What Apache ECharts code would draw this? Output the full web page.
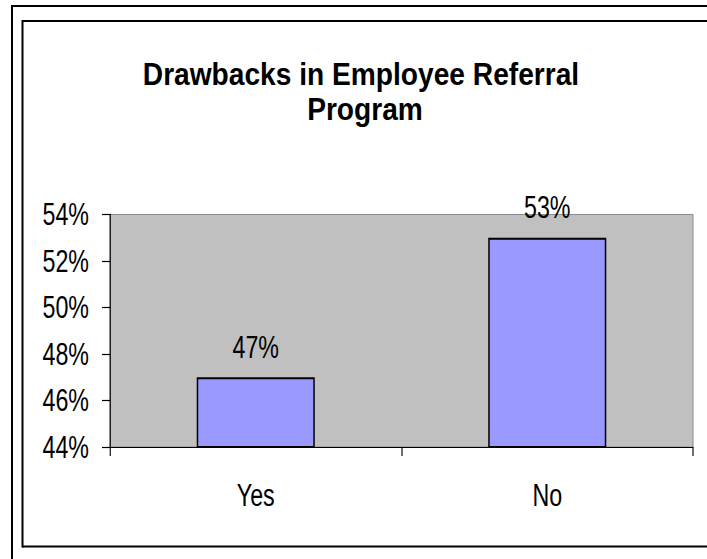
<!DOCTYPE html>
<html>
<head>
<meta charset="utf-8">
<script src="https://cdn.jsdelivr.net/npm/echarts@6/dist/echarts.min.js"></script>
<style>
html,body{margin:0;padding:0;background:#fff;overflow:hidden;}
#wrap{width:707px;height:559px;overflow:hidden;position:relative;}
#chart{height:559px;transform-origin:0 0;position:absolute;left:0;top:0;}
</style>
</head>
<body>
<div id="wrap"><div id="chart"></div></div>
<script>
const titleLines = ["Drawbacks in Employee Referral", "Program"];
const categories = ["Yes", "No"];
const values = [47, 53];
const yMin = 44, yMax = 54, yStep = 2;

// The reference uses a condensed typeface; emulate it by compressing horizontally.
const SX = 0.75;
const W = 707 / SX;
const X = v => v / SX;               // convert a screen x to chart-space x
const el = document.getElementById('chart');
el.style.width = W + 'px';
el.style.transform = 'scaleX(' + SX + ')';

const FONT = '"Liberation Sans", Arial, sans-serif';
const chart = echarts.init(el, null, {renderer: 'svg', width: W, height: 559});

const line = (x1, y1, x2, y2, w) => ({
  type: 'line', silent: true,
  shape: {x1: x1, y1: y1, x2: x2, y2: y2},
  style: {stroke: '#000', lineWidth: w}
});
const titleStyle = {fontFamily: FONT, fontWeight: 'bold', fontSize: 32, fill: '#000', align: 'center', verticalAlign: 'middle'};
const TS = 0.88 / SX;

chart.setOption({
  backgroundColor: '#fff',
  animation: false,
  graphic: [
    line(X(11), 6, X(707), 6, 2),
    line(X(12), 5, X(12), 559, 2 / SX),
    line(X(22), 21, X(707), 21, 2),
    line(X(22.5), 20, X(22.5), 547.5, 2 / SX),
    line(X(22), 546.5, X(707), 546.5, 2),
    {type: 'text', silent: true, x: X(361), y: 74, scaleX: TS, style: Object.assign({text: titleLines[0]}, titleStyle)},
    {type: 'text', silent: true, x: X(365), y: 109, scaleX: TS, style: Object.assign({text: titleLines[1]}, titleStyle)}
  ],
  grid: {
    left: X(110), right: X(14), top: 214.5, bottom: 112,
    show: true, backgroundColor: '#C0C0C0', borderColor: '#808080', borderWidth: 1
  },
  xAxis: {
    type: 'category',
    data: categories,
    boundaryGap: true,
    axisLine: {lineStyle: {color: '#000', width: 1.2}},
    axisTick: {show: true, length: 9, lineStyle: {color: '#000', width: 1.5}},
    axisLabel: {fontFamily: FONT, fontSize: 31, color: '#000', margin: 33}
  },
  yAxis: {
    type: 'value',
    min: yMin, max: yMax, interval: yStep,
    splitLine: {show: false},
    axisLine: {show: true, lineStyle: {color: '#000', width: 1.5}},
    axisTick: {show: true, length: X(8), lineStyle: {color: '#000', width: 1.2}},
    axisLabel: {fontFamily: FONT, fontSize: 31, color: '#000', margin: X(21), formatter: '{value}%'}
  },
  series: [{
    type: 'bar',
    data: values,
    barWidth: '40.5%',
    itemStyle: {color: '#9999FF', borderColor: '#000', borderWidth: 2},
    label: {show: true, position: 'top', distance: 15, formatter: '{c}%', fontFamily: FONT, fontSize: 31, color: '#000'}
  }]
});
</script>
</body>
</html>
